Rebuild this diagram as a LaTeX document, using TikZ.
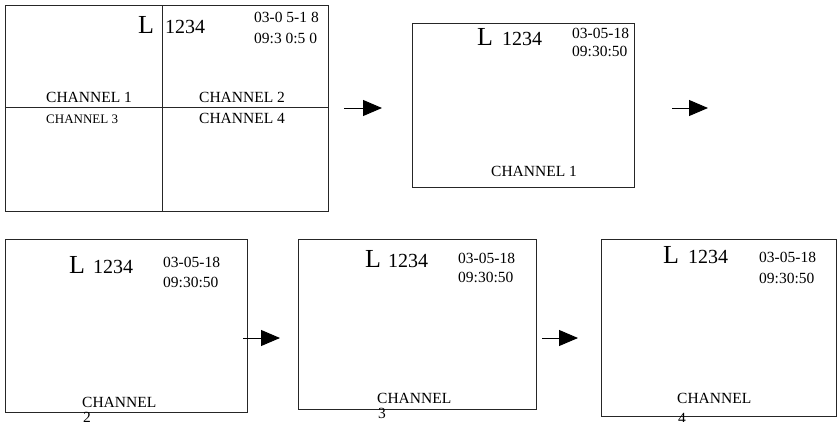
\documentclass[tikz,border=0pt]{standalone}
\usepackage{fontspec}
\setmainfont{Liberation Serif}
\usetikzlibrary{arrows.meta}
\begin{document}
\begin{tikzpicture}[x=1pt,y=-1pt,
  screen/.style={draw=black!85,line width=0.9pt},
  txt/.style={anchor=base west,inner sep=0pt,font=\fontsize{15.5}{17}\selectfont},
  small/.style={anchor=base west,inner sep=0pt,font=\fontsize{13}{15}\selectfont},
  bigL/.style={anchor=base west,inner sep=0pt,font=\fontsize{26}{28}\selectfont},
  ident/.style={anchor=base west,inner sep=0pt,font=\fontsize{20}{22}\selectfont},
  next/.style={line width=0.9pt,-{Triangle[length=19pt,width=16pt]}}]
\useasboundingbox (0,0) rectangle (838,421);

% quad view
\draw[screen] (5,5) rectangle (328,211);
\draw[screen] (162,5) -- (162,211);
\draw[screen] (5,107) -- (328,107);
\node[bigL] (qL) at (138,33) {L};
\node[ident] (qid) at (165,33) {1234};
\node[txt] (qd) at (254,22) {03-0 5-1 8};
\node[txt] (qt) at (254,43) {09:3 0:5 0};
\node[txt] (q1) at (46,102) {CHANNEL 1};
\node[txt] (q2) at (199,102) {CHANNEL 2};
\node[small] (q3) at (46,123) {CHANNEL 3};
\node[txt] (q4) at (199,123) {CHANNEL 4};

% channel 1
\draw[screen] (412,23) rectangle (634,187);
\node[bigL] (aL) at (477,45) {L};
\node[ident] (aid) at (502,45) {1234};
\node[txt] (ad) at (572,38) {03-05-18};
\node[txt] (at) at (572,56) {09:30:50};
\node[txt] (ac) at (491,176) {CHANNEL 1};

% channel 2
\draw[screen] (5,239) rectangle (247,412);
\node[bigL] (bL) at (69,273) {L};
\node[ident] (bid) at (93,273) {1234};
\node[txt] (bd) at (163,267) {03-05-18};
\node[txt] (bt) at (163,287) {09:30:50};
\node[txt] (bc) at (82,407) {CHANNEL};
\node[txt] (bn) at (83,422.5) {2};

% channel 3
\draw[screen] (298,239) rectangle (536,409);
\node[bigL] (cL) at (365,267) {L};
\node[ident] (cid) at (388,267) {1234};
\node[txt] (cd) at (458,263) {03-05-18};
\node[txt] (ct) at (458,282) {09:30:50};
\node[txt] (cc) at (377,403) {CHANNEL};
\node[txt] (cn) at (378,418.5) {3};

% channel 4
\draw[screen] (601,239) rectangle (836,416);
\node[bigL] (dL) at (663,263) {L};
\node[ident] (did) at (688,263) {1234};
\node[txt] (dd) at (759,262) {03-05-18};
\node[txt] (dt) at (759,283) {09:30:50};
\node[txt] (dc) at (677,403) {CHANNEL};
\node[txt] (dn) at (678,423.5) {4};

% sequence arrows
\coordinate (s1) at (344,108); \coordinate (e1) at (382,108);
\coordinate (s2) at (672,108); \coordinate (e2) at (708,108);
\coordinate (s3) at (243,338); \coordinate (e3) at (280,338);
\coordinate (s4) at (542,338); \coordinate (e4) at (578,338);
\draw[next] (s1) -- (e1);
\draw[next] (s2) -- (e2);
\draw[next] (s3) -- (e3);
\draw[next] (s4) -- (e4);
\end{tikzpicture}
\end{document}
